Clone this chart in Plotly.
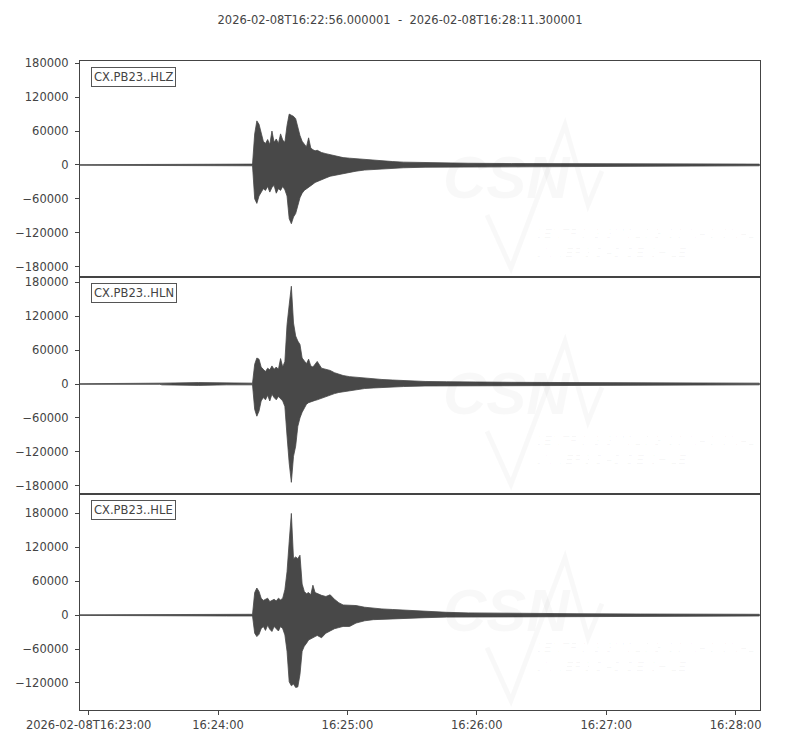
import pandas as pd
import plotly.graph_objects as go
from plotly.subplots import make_subplots

# window of the record
START = pd.Timestamp("2026-02-08 16:22:56.000001")
END = pd.Timestamp("2026-02-08 16:28:11.300001")
TITLE = "2026-02-08T16:22:56.000001\u00a0 - \u00a02026-02-08T16:28:11.300001"

channels = ["CX.PB23..HLZ", "CX.PB23..HLN", "CX.PB23..HLE"]

# envelope of each trace
# seconds after START, amplitudes in thousands of counts
t_sec = [0, 37, 38, 55, 62, 68, 80,
         81, 82, 83, 84, 85, 86, 87, 88, 89, 90, 91, 92, 93, 94, 95,
         96, 97, 98, 99, 100, 101, 102, 103, 104, 105, 106, 107, 108, 109, 110,
         112, 114, 116, 118, 120, 122, 125, 128, 132, 136, 140, 145, 150,
         160, 170, 180, 200, 230, 260, 290, 315]

hlz_upper = [0.5, 0.5, 1.5, 1.5, 1.5, 1.5, 1.5,
             55, 78, 72, 55, 42, 38, 45, 36, 60, 40, 46, 38, 55, 44, 40,
             70, 90, 88, 86, 82, 65, 52, 42, 36, 32, 48, 30, 27, 25, 26,
             22, 20, 18, 16, 14, 13, 12, 11, 9, 8, 7, 6, 5,
             4, 3.5, 3, 2.5, 2, 2, 1.8, 1.5]
hlz_lower = [-0.5, -0.5, -1.5, -1.5, -1.5, -1.5, -1.5,
             -60, -68, -55, -50, -42, -45, -38, -48, -40, -36, -50, -42, -45, -38, -44,
             -55, -95, -104, -92, -86, -72, -58, -50, -45, -42, -40, -37, -34, -31, -29,
             -26, -23, -20, -18, -16, -15, -13, -11, -9, -8, -7, -6, -5,
             -4, -3.5, -3, -2.5, -2, -2, -1.8, -1.5]

hln_upper = [0.5, 0.5, 1.5, 2.5, 2.5, 1.5, 1.5,
             35, 46, 44, 30, 26, 22, 28, 25, 32, 26, 30, 26, 45, 30, 40,
             105, 140, 173, 108, 85, 76, 70, 46, 40, 36, 44, 32, 30, 36, 40,
             28, 26, 24, 20, 17, 15, 13, 12, 10, 9, 8, 7, 6,
             4.5, 4, 3.5, 3, 2.5, 2, 1.8, 1.5]
hln_lower = [-0.5, -0.5, -1.5, -2.5, -2.5, -1.5, -1.5,
             -45, -57, -48, -30, -24, -28, -20, -30, -18, -24, -28, -22, -26, -30, -40,
             -92, -140, -174, -128, -110, -75, -60, -50, -42, -36, -33, -32, -30, -29, -28,
             -25, -22, -20, -17, -15, -13, -12, -10, -8, -7, -6, -5, -4.5,
             -3.5, -3, -3, -2.5, -2, -2, -1.8, -1.5]

hle_upper = [0.5, 0.5, 1.5, 1.5, 1.5, 1.5, 1.5,
             40, 48, 42, 30, 26, 28, 30, 24, 26, 28, 25, 30, 27, 30, 45,
             77, 130, 180, 100, 103, 100, 106, 55, 42, 38, 40, 36, 53, 40, 38,
             35, 33, 36, 28, 22, 18, 18, 17, 14, 12, 11, 10, 9,
             6, 5, 4, 3, 2.5, 2, 1.8, 1.5]
hle_lower = [-0.5, -0.5, -1.5, -1.5, -1.5, -1.5, -1.5,
             -32, -38, -34, -24, -20, -27, -18, -25, -29, -20, -24, -28, -20, -24, -35,
             -64, -118, -125, -122, -128, -127, -105, -64, -55, -50, -44, -42, -40, -38, -36,
             -40, -32, -28, -24, -22, -20, -20, -14, -10, -8, -8, -7, -6,
             -4.5, -3.5, -3, -2.5, -2, -2, -1.8, -1.5]

envelopes = [(hlz_upper, hlz_lower), (hln_upper, hln_lower), (hle_upper, hle_lower)]

# axis limits and ticks of each panel (counts)
y_ranges = [(-198900, 184000), (-194100, 188800), (-167900, 215000)]
y_ticks = [
    [-180000, -120000, -60000, 0, 60000, 120000, 180000],
    [-180000, -120000, -60000, 0, 60000, 120000, 180000],
    [-120000, -60000, 0, 60000, 120000, 180000],
]
x_ticks = ["2026-02-08 16:23:00", "2026-02-08 16:24:00", "2026-02-08 16:25:00",
           "2026-02-08 16:26:00", "2026-02-08 16:27:00", "2026-02-08 16:28:00"]
x_ticktext = ["2026-02-08T16:23:00", "16:24:00", "16:25:00",
              "16:26:00", "16:27:00", "16:28:00"]

INK = "#444444"
WAVE = "#484848"
FONT = "DejaVu Sans"
W, H = 800, 750
L, R, T, B = 80, 40, 61, 40


def fmt(v):
    return str(v).replace("-", "\u2212")


def paper(px, py):
    return (px - L) / (W - L - R), (H - B - py) / (H - T - B)


fig = make_subplots(rows=3, cols=1, shared_xaxes=True, vertical_spacing=0)

times = START + pd.to_timedelta(t_sec, unit="s")
for i, (up, lo) in enumerate(envelopes):
    xs = list(times) + list(times[::-1])
    ys = [v * 1000 for v in up] + [v * 1000 for v in lo[::-1]]
    fig.add_trace(go.Scatter(
        x=xs, y=ys, mode="lines", fill="toself",
        fillcolor=WAVE, line=dict(color=WAVE, width=0.8),
        hoverinfo="skip", showlegend=False,
    ), row=i + 1, col=1)

    fig.update_yaxes(
        range=list(y_ranges[i]), tickvals=y_ticks[i],
        ticktext=[fmt(v) for v in y_ticks[i]],
        ticks="outside", ticklen=4, tickcolor=INK, ticklabelstandoff=4,
        showline=True, mirror=True, linecolor=INK, linewidth=1,
        showgrid=False, zeroline=False, row=i + 1, col=1,
    )
    fig.update_xaxes(
        type="date", range=[START, END],
        showline=True, mirror=True, linecolor=INK, linewidth=1,
        showgrid=False, zeroline=False,
        ticks="outside" if i == 2 else "", ticklen=4, tickcolor=INK,
        tickvals=x_ticks, ticktext=x_ticktext,
        showticklabels=(i == 2), row=i + 1, col=1,
    )

    sfx = "" if i == 0 else str(i + 1)
    fig.add_annotation(
        text=channels[i], xref=f"x{sfx} domain", yref=f"y{sfx} domain",
        x=11 / 680, y=1 - 6 / 216.3, xanchor="left", yanchor="top",
        showarrow=False, bgcolor="white", bordercolor="#555555",
        borderwidth=1, borderpad=2, font=dict(size=11.5, color=INK),
    )

    # faint CSN watermark in each panel
    top = T + i * 216.3
    wm = "rgba(0,0,0,0.028)"
    cx, cy = paper(507, top + 152)
    fig.add_annotation(text="<b><i>CSN</i></b>", xref="paper", yref="paper",
                       x=cx, y=cy, yanchor="bottom", showarrow=False,
                       font=dict(family="Liberation Sans", size=60, color=wm))
    for k, line in enumerate(["CENTRO SISMOLÓGICO NACIONAL", "UNIVERSIDAD DE CHILE"]):
        lx, ly = paper(532, top + 163 + k * 19)
        fig.add_annotation(text=f"<i>{line}</i>", xref="paper", yref="paper",
                           x=lx, y=ly, xanchor="left", showarrow=False,
                           font=dict(family="Liberation Sans", size=13, color=wm))
    pts = [paper(487, top + 154), paper(511, top + 207), paper(565, top + 64),
           paper(588, top + 144), paper(602, top + 110)]
    path = "M " + " L ".join(f"{a:.4f},{b:.4f}" for a, b in pts)
    fig.add_shape(type="path", path=path, xref="paper", yref="paper",
                  line=dict(color=wm, width=5), layer="below")

fig.update_layout(
    width=W, height=H,
    margin=dict(l=L, r=R, t=T, b=B),
    paper_bgcolor="white", plot_bgcolor="white",
    font=dict(family=FONT, size=11.5, color=INK),
    title=dict(text=TITLE, x=0.5, xref="container", y=1 - 20 / H,
               yanchor="middle", font=dict(size=11.5, color=INK)),
    showlegend=False,
)

# drop the page margin so the figure sits at the window's corner
fig.write_html("out.html", config={"displayModeBar": False},
               post_script="document.body.style.margin='0';")
